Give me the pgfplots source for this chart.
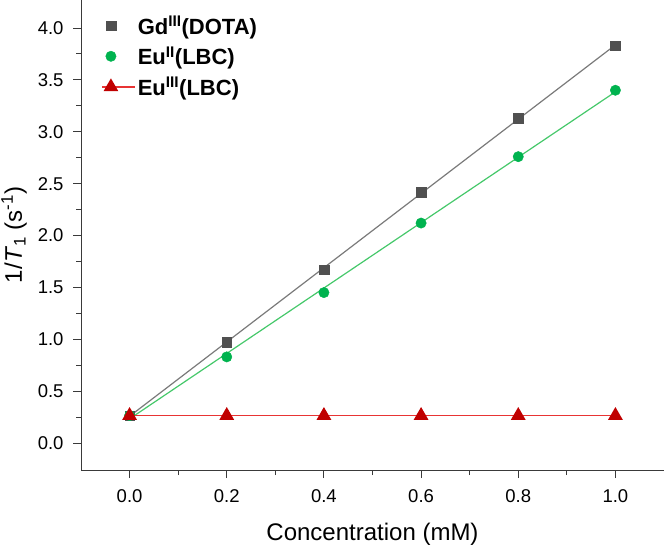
\documentclass[border=0pt]{standalone}
\usepackage{fontspec}
\setmainfont{Liberation Sans}
\usepackage{pgfplots}
\pgfplotsset{compat=1.18}

\definecolor{axiscol}{HTML}{3A3A3A}
\definecolor{gdmark}{HTML}{505050}
\definecolor{gdline}{HTML}{7A7A7A}
\definecolor{eutwomark}{HTML}{00B34F}
\definecolor{eutwoline}{HTML}{45C86A}
\definecolor{euthreemark}{HTML}{C00000}
\definecolor{redline}{RGB}{232,52,52}

% legend entries show the marker alone, followed by a gap before the text
\pgfplotsset{
  markentry/.style={
    legend image code/.code={%
      \path[draw=none, fill=none] (0cm,-0.1cm) rectangle (1.15cm,0.1cm);
      \path[mark repeat=2,mark phase=2,##1] plot coordinates {(0cm,0cm) (0.3cm,0cm) (1.15cm,0cm)};}
  }
}

\begin{document}
\begin{tikzpicture}
\begin{axis}[
  at={(81bp,75bp)}, anchor=south west,
  scale only axis, width=583bp, height=470bp,
  xmin=-0.1, xmax=1.1, ymin=-0.26, ymax=4.27,
  axis x line*=bottom, axis y line*=left,
  axis line style={-, color=axiscol, line width=0.9bp},
  xtick={0,0.2,0.4,0.6,0.8,1.0},
  ytick={0,0.5,1.0,1.5,2.0,2.5,3.0,3.5,4.0},
  minor x tick num=1, minor y tick num=1,
  tick align=outside, major tick length=8bp, minor tick length=5bp,
  every tick/.style={color=axiscol, line width=0.9bp},
  /pgf/number format/assume math mode=true,
  /pgf/number format/.cd, fixed, fixed zerofill, precision=1, /pgfplots/.cd,
  ticklabel style={font=\fontsize{18.5bp}{20bp}\selectfont, text=black},
  xticklabel style={yshift=-8bp},
  yticklabel style={xshift=-6bp},
  xlabel={Concentration (mM)},
  ylabel={1/\textit{T}\textsubscript{1} (s\textsuperscript{-1})},
  label style={font=\fontsize{24bp}{27bp}\selectfont},
  xlabel style={yshift=-14bp},
  ylabel style={yshift=4bp},
  legend style={at={(0.03,0.975)}, anchor=north west, draw=none, fill=none,
    font=\fontsize{22bp}{25bp}\selectfont\bfseries, row sep=7bp},
  legend cell align=left,
]
% fitted straight lines (drawn first, beneath the markers)
\addplot[forget plot, mark=none, draw=gdline, line width=1.2bp] coordinates {(0,0.258) (1,3.837)};
\addplot[forget plot, mark=none, draw=eutwoline, line width=1.2bp] coordinates {(0,0.233) (1,3.385)};
% measured relaxation rates
\addplot[only marks, markentry, mark=square*, mark size=4.8bp, mark options={fill=gdmark, draw=gdmark}] coordinates {
  (0,0.265) (0.2,0.97) (0.4,1.67) (0.6,2.42) (0.8,3.13) (1.0,3.83)};
\addlegendentry{Gd\textsuperscript{III}(DOTA)}
\addplot[only marks, markentry, mark=*, mark size=5.2bp, mark options={fill=eutwomark, draw=eutwomark}] coordinates {
  (0,0.265) (0.2,0.83) (0.4,1.45) (0.6,2.12) (0.8,2.76) (1.0,3.40)};
\addlegendentry{Eu\textsuperscript{II}(LBC)}
% constant rate: the flat fit line runs through every point
\addplot[color=redline, line width=1.5bp, markentry, mark=triangle*, mark size=7bp,
  mark options={solid, fill=euthreemark, draw=euthreemark}] coordinates {
  (0,0.265) (0.2,0.265) (0.4,0.265) (0.6,0.265) (0.8,0.265) (1.0,0.265)};
\addlegendentry{Eu\textsuperscript{III}(LBC)}
\end{axis}
\pgfresetboundingbox
\path[use as bounding box] (0,0) rectangle (666bp,545bp);
\end{tikzpicture}
\end{document}
